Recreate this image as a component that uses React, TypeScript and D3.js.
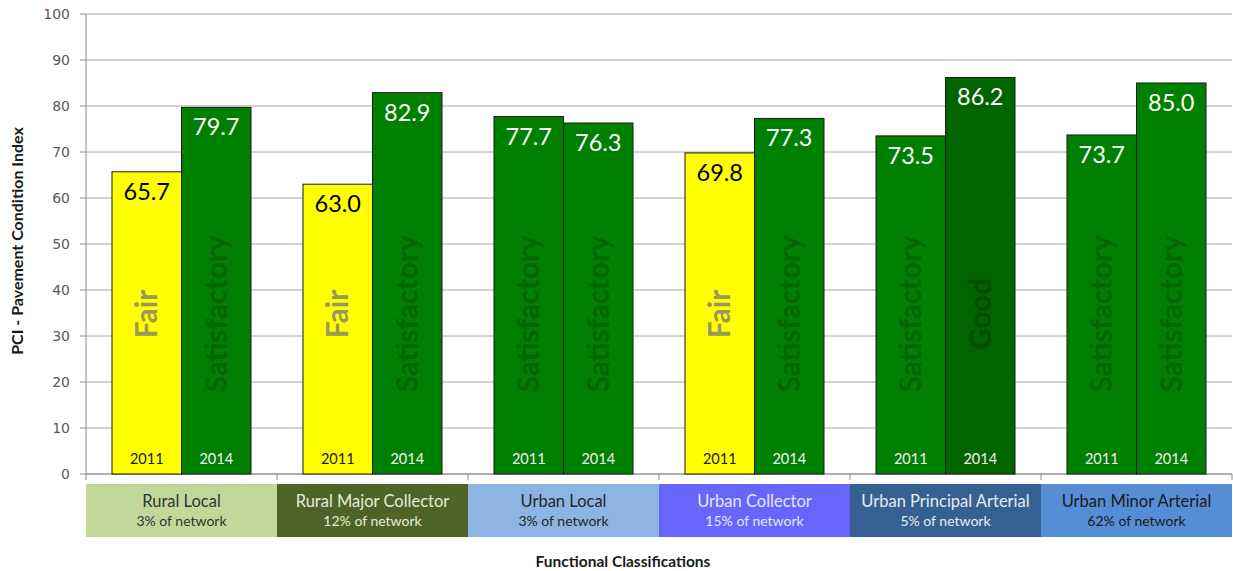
import React from "react";
import * as d3 from "d3";

const categories = ["Rural Local", "Rural Major Collector", "Urban Local", "Urban Collector", "Urban Principal Arterial", "Urban Minor Arterial"];
const shares = ["3% of network", "12% of network", "3% of network", "15% of network", "5% of network", "62% of network"];
const years = ["2011", "2014"];
const values2011 = [65.7, 63.0, 77.7, 69.8, 73.5, 73.7];
const values2014 = [79.7, 82.9, 76.3, 77.3, 86.2, 85.0];
const rating2011 = ["Fair", "Fair", "Satisfactory", "Fair", "Satisfactory", "Satisfactory"];
const rating2014 = ["Satisfactory", "Satisfactory", "Satisfactory", "Satisfactory", "Good", "Satisfactory"];
const yTicks = [0, 10, 20, 30, 40, 50, 60, 70, 80, 90, 100];

const boxColors = ["#C4D79B", "#4F6228", "#8DB4E2", "#6666FF", "#366092", "#558ED5"];
const boxText = ["#333333", "#e8ecd8", "#262626", "#e6e6ff", "#e6ecf4", "#1a1a1a"];

const ratingFill: Record<string, string> = { Fair: "#FFFF00", Satisfactory: "#008000", Good: "#006400" };
const ratingText: Record<string, string> = { Fair: "#9a9858", Satisfactory: "#006500", Good: "#004c00" };
const valueText: Record<string, string> = { Fair: "#000000", Satisfactory: "#ffffff", Good: "#ffffff" };

const W = 1233, H = 571;
const left = 86, right = 1232, top = 14, bottom = 474;

export default function App() {
  const x = d3.scaleBand<string>().domain(categories).range([left, right]).paddingInner(0).paddingOuter(0);
  const xi = d3.scaleBand<string>().domain(years).range([0, x.bandwidth()]).paddingInner(0).paddingOuter(0.374);
  const y = d3.scaleLinear().domain([0, 100]).range([bottom, top]);
  const font = "Lato, 'Open Sans', sans-serif";

  const bars: any[] = [];
  categories.forEach((c, i) => {
    [[values2011[i], rating2011[i], "2011"], [values2014[i], rating2014[i], "2014"]].forEach(([v, r, yr]: any) => {
      bars.push({ c, v, r, yr });
    });
  });

  return (
    <svg width={W} height={H} style={{ position: "absolute", left: 0, top: 0, background: "#fff" }}>
      {yTicks.map((t) => (
        <g key={t}>
          <line x1={left} x2={right} y1={y(t)} y2={y(t)} stroke="#a6a6a6" strokeWidth={1} />
          <line x1={left - 6} x2={left} y1={y(t)} y2={y(t)} stroke="#8c8c8c" strokeWidth={1} />
          <text x={70} y={y(t)} dy="0.35em" textAnchor="end" fontFamily="'DejaVu Sans', sans-serif" fontSize={14} fill="#595959">{t}</text>
        </g>
      ))}
      <line x1={left} x2={left} y1={top} y2={bottom} stroke="#8c8c8c" />
      <line x1={left} x2={right} y1={bottom} y2={bottom} stroke="#8c8c8c" />
      {categories.map((c) => (
        <line key={c} x1={x(c)!} x2={x(c)!} y1={bottom} y2={bottom + 6} stroke="#8c8c8c" />
      ))}
      <line x1={right} x2={right} y1={bottom} y2={bottom + 6} stroke="#8c8c8c" />

      {bars.map((b, k) => {
        const bx = x(b.c)! + xi(b.yr)!;
        const bw = xi.bandwidth();
        const cx = bx + bw / 2;
        return (
          <g key={k}>
            <rect x={bx} y={y(b.v)} width={bw} height={bottom - y(b.v)} fill={ratingFill[b.r]} stroke="#1a1a1a" strokeWidth={1} />
            <text x={cx} y={y(b.v) + 28} textAnchor="middle" fontFamily={font} fontSize={23.5} fill={valueText[b.r]}>{b.v.toFixed(1)}</text>
            <text x={cx} y={464} textAnchor="middle" fontFamily={font} fontSize={14.5} fill={valueText[b.r] === "#000000" ? "#1a1a1a" : "#f2f2f2"}>{b.yr}</text>
            <text transform={`translate(${cx},${y(34.8)}) rotate(-90)`} dy="0.35em" textAnchor="middle" fontFamily={font} fontWeight="bold" fontSize={29.5} fill={ratingText[b.r]}>{b.r}</text>
          </g>
        );
      })}

      {categories.map((c, i) => (
        <g key={c}>
          <rect x={x(c)!} y={484} width={x.bandwidth()} height={53} fill={boxColors[i]} />
          <text x={x(c)! + x.bandwidth() / 2} y={507} textAnchor="middle" fontFamily={font} fontSize={16.5} fill={boxText[i]}>{c}</text>
          <text x={x(c)! + x.bandwidth() / 2} y={526} textAnchor="middle" fontFamily={font} fontSize={14} fill={boxText[i]}>{shares[i]}</text>
        </g>
      ))}

      <text x={623} y={567} textAnchor="middle" fontFamily={font} fontWeight="bold" fontSize={15.5} fill="#1a1a1a">Functional Classifications</text>
      <text transform={`translate(17,241) rotate(-90)`} dy="0.35em" textAnchor="middle" fontFamily={font} fontWeight="bold" fontSize={16} fill="#1a1a1a">PCI - Pavement Condition Index</text>
    </svg>
  );
}
